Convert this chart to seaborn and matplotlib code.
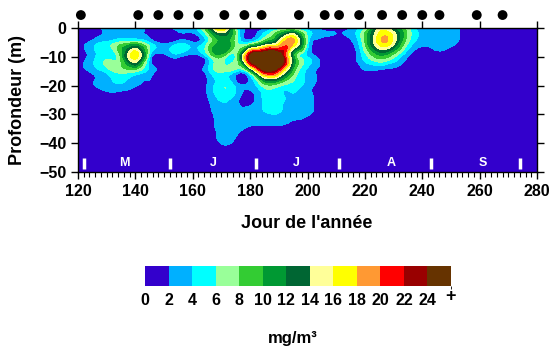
import numpy as np
import matplotlib
matplotlib.use('Agg')
import matplotlib.pyplot as plt
import matplotlib.tri as mtri
from matplotlib.colors import ListedColormap, BoundaryNorm
from matplotlib.cm import ScalarMappable
import seaborn as sns

# grid of readings: one list per depth, one value per 5 days (120 .. 280)
days = list(range(120, 281, 5))
depths = [0, -5, -10, -15, -20, -25, -30, -35, -40, -45, -50]

conc_0m = [0, 1.2, 2.5, 3, 3.5, 1.3, 1, 3, 3, 9.5, 19, 6, 0.8, 1.2, 4, 4.5, 2.5,
           0.8, 0.5, 1.6, 5.5, 14.5, 12, 6.5, 3, 3, 2.8, 1.2, 0, 0, 0, 0, 0]
conc_5m = [0, 2.8, 4.5, 6.5, 7.5, 4, 1.2, 3.2, 2.2, 5.5, 11, 7, 4.5, 10, 15, 18.5, 5.5,
           1.2, 0.5, 1.5, 8, 17, 15, 6.3, 2.8, 2.8, 2.6, 1, 0, 0, 0, 0, 0]
conc_10m = [0.3, 3.2, 5.5, 8.5, 17, 4.2, 0.8, 2.4, 0.5, 4.2, 8.3, 6.5, 25, 30, 28, 11, 4,
            1, 0.3, 0.8, 5, 9, 6.5, 2, 0.8, 1.6, 0.8, 0.3, 0, 0, 0, 0, 0]
conc_15m = [0, 2.6, 4.8, 6.8, 6.5, 3.2, 0.5, 0.5, 0.3, 3.2, 6.5, 4.5, 9, 23, 20, 9, 3.5,
            1.2, 0, 0, 1.8, 1.5, 1.2, 0.3, 0, 0, 0, 0, 0, 0, 0, 0, 0]
conc_20m = [0, 1.8, 3, 3.5, 2.2, 1.2, 0.3, 0, 0, 2.1, 5.5, 3.5, 2.5, 7, 6.5, 5, 3,
            1, 0, 0, 0, 0, 0, 0, 0, 0, 0, 0, 0, 0, 0, 0, 0]
conc_25m = [0, 0.3, 0.8, 0.6, 0.3, 0, 0, 0, 0, 1.6, 4.2, 2.8, 1.2, 4.5, 4.6, 3.5, 2.8,
            0.8, 0, 0, 0, 0, 0, 0, 0, 0, 0, 0, 0, 0, 0, 0, 0]
conc_30m = [0, 0, 0, 0, 0, 0, 0, 0, 0, 1.2, 3, 3, 2.8, 3.5, 3.8, 2.8, 2.3,
            0.5, 0, 0, 0, 0, 0, 0, 0, 0, 0, 0, 0, 0, 0, 0, 0]
conc_35m = [0, 0, 0, 0, 0, 0, 0, 0, 0, 0.8, 2.6, 2.5, 1.8, 1.6, 1.5, 1.2, 0.5,
            0, 0, 0, 0, 0, 0, 0, 0, 0, 0, 0, 0, 0, 0, 0, 0]
conc_40m = [0, 0, 0, 0, 0, 0, 0, 0, 0, 0.3, 2.1, 1.5, 0.5, 0.3, 0, 0, 0,
            0, 0, 0, 0, 0, 0, 0, 0, 0, 0, 0, 0, 0, 0, 0, 0]
conc_45m = [0] * 33
conc_50m = [0] * 33

sample_days = [121, 141, 148, 155, 162, 171, 178, 184, 197, 206, 211, 218,
               226, 233, 240, 246, 259, 268]
month_bars = [122, 152, 182, 211, 243, 274]
month_names = ['M', 'J', 'J', 'A', 'S']
month_pos = [136, 167, 196, 229, 261]

levels = list(range(0, 26, 2))
colors = ['#3300cc', '#00b0ff', '#00ffff', '#99ff99', '#33cc33', '#009933',
          '#006633', '#ffff99', '#ffff00', '#ff9933', '#ff0000', '#990000', '#663300']

sns.set_style('ticks')
plt.rcParams['font.family'] = ['Liberation Sans', 'DejaVu Sans']
plt.rcParams['font.weight'] = 'bold'
for key in ['text.color', 'axes.labelcolor', 'xtick.color', 'ytick.color', 'axes.edgecolor']:
    plt.rcParams[key] = 'black'

grid = np.array([conc_0m, conc_5m, conc_10m, conc_15m, conc_20m, conc_25m,
                 conc_30m, conc_35m, conc_40m, conc_45m, conc_50m])
X, Y = np.meshgrid(days, depths)

fig = plt.figure(figsize=(5.54, 3.49), dpi=100)
ax = fig.add_axes([78 / 554, 1 - 172 / 349, 459 / 554, 144 / 349])

# smooth the contour shapes with matplotlib's triangulation refiner
tri = mtri.Triangulation(X.ravel(), Y.ravel())
refiner = mtri.UniformTriRefiner(tri)
tri_fine, z_fine = refiner.refine_field(grid.ravel(), subdiv=3)
ax.tricontourf(tri_fine, z_fine, levels=[-1000] + levels[1:] + [1000], colors=colors)

# sampling dates
sns.scatterplot(x=sample_days, y=[4.5] * len(sample_days), ax=ax, color='black',
                s=50, edgecolor='none', clip_on=False, legend=False, zorder=5)

# month separators and names
ax.vlines(month_bars, -49, -45, colors='white', linewidth=2.5, zorder=4)
for m, p in zip(month_names, month_pos):
    ax.text(p, -47, m, color='white', fontsize=9, fontweight='bold',
            ha='center', va='center', zorder=4)

ax.set_xlim(120, 280)
ax.set_ylim(-50, 0)
ax.set_xticks(range(120, 281, 20))
ax.set_xticks(range(120, 281, 2), minor=True)
ax.set_yticks(range(-50, 1, 10))
ax.tick_params(which='major', direction='out', length=5, width=1, labelsize=11.5,
               top=True, right=True, labeltop=False, labelright=False,
               color='black', labelcolor='black')
ax.tick_params(which='minor', direction='out', length=3.5, width=0.8,
               bottom=True, top=False, left=False, right=False, color='black')
for lab in ax.get_xticklabels() + ax.get_yticklabels():
    lab.set_fontweight('bold')
for s in ax.spines.values():
    s.set_color('black')
    s.set_linewidth(1)

fig.text(307 / 554, 1 - 223 / 349, "Jour de l'année", fontsize=13, fontweight='bold',
         ha='center', va='center', color='black')
fig.text(18 / 554, 1 - 100 / 349, 'Profondeur (m)', fontsize=13, fontweight='bold',
         ha='center', va='center', rotation=90, color='black')

# colour key
cax = fig.add_axes([145 / 554, 1 - 286 / 349, 306 / 554, 20 / 349])
norm = BoundaryNorm(levels + [26], len(colors))
cb = fig.colorbar(ScalarMappable(norm=norm, cmap=ListedColormap(colors)), cax=cax,
                  orientation='horizontal', ticks=levels)
cb.outline.set_visible(False)
cb.ax.tick_params(length=0, pad=5, labelsize=11.5, labelcolor='black')
cb.ax.set_xticklabels([str(v) for v in levels], fontweight='bold')
cb.ax.text(26, -0.5, '+', fontsize=13, fontweight='bold', ha='center', va='center',
           color='black', transform=cb.ax.get_xaxis_transform())
fig.text(293 / 554, 1 - 338 / 349, 'mg/m³', fontsize=12, fontweight='bold',
         ha='center', va='center', color='black')

fig.savefig('out.png', dpi=100)
